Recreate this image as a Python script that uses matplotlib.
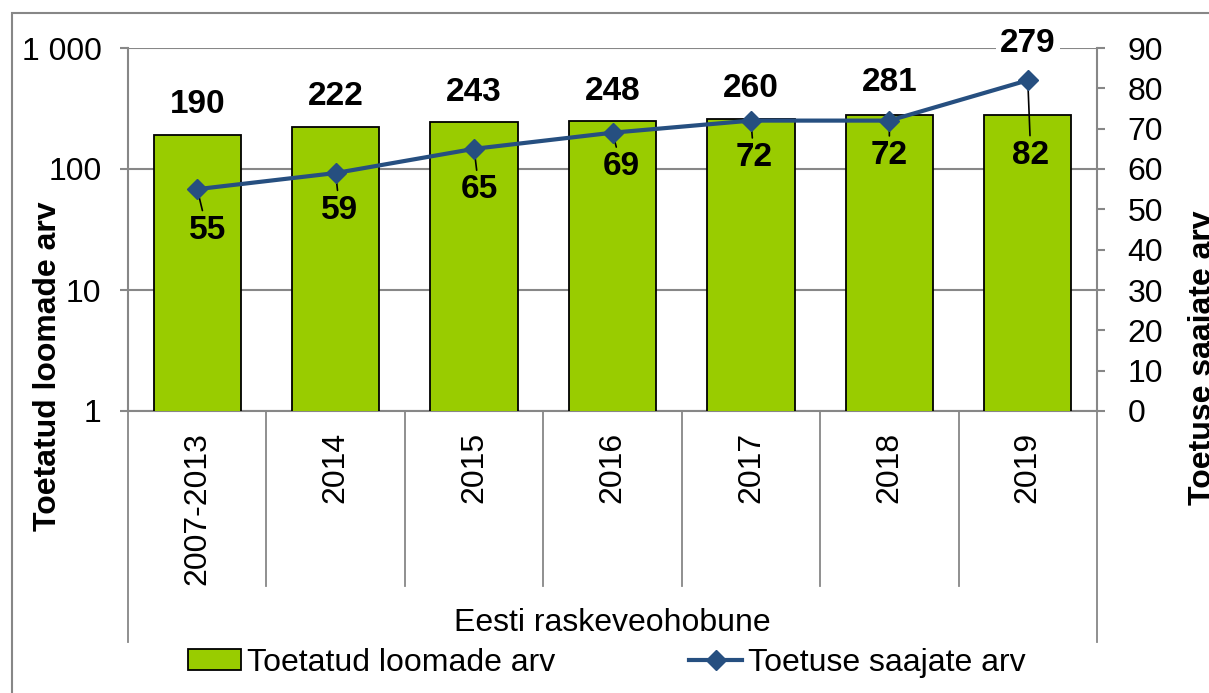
import matplotlib
matplotlib.use("Agg")
from matplotlib import pyplot as plt
from matplotlib.patches import Rectangle
from matplotlib.lines import Line2D
from matplotlib.ticker import FixedLocator, FuncFormatter, NullLocator
import matplotlib.transforms as mtransforms

plt.rcParams['font.family'] = ['Liberation Sans', 'DejaVu Sans']

# andmed
aastad = ["2007-2013", "2014", "2015", "2016", "2017", "2018", "2019"]
loomad = [190, 222, 243, 248, 260, 281, 279]
saajad = [55, 59, 65, 69, 72, 72, 82]
kategooria = "Eesti raskeveohobune"

roheline = "#99CC00"
sinine = "#264F80"
hall = "#878787"
fs = 23
fsb = 24

fig = plt.figure(figsize=(12.09, 6.93), dpi=100)
ax = fig.add_axes([128 / 1209, 1 - 411 / 693, 969 / 1209, 363 / 693])
ax2 = ax.twinx()

x = list(range(len(aastad)))
bars = ax.bar(x, loomad, width=0.63, color=roheline, edgecolor="black", linewidth=1.3, zorder=3)
ax.set_yscale("log")
ax.set_ylim(1, 1000)
ax.set_xlim(-0.5, len(aastad) - 0.5)
ax.yaxis.set_major_locator(FixedLocator([1, 10, 100, 1000]))
ax.yaxis.set_minor_locator(NullLocator())
ax.yaxis.set_major_formatter(FuncFormatter(lambda v, p: f"{int(v):,}".replace(",", " ")))
ax.grid(axis="y", color=hall, linewidth=1.5, zorder=0)
ax.set_xticks(x)
ax.set_xticklabels(aastad, rotation=90, fontsize=fs)
ax.tick_params(axis="x", length=0, pad=15)
ax.tick_params(axis="y", labelsize=fs, length=6, width=1.5, color=hall, pad=13)
for s in ["top", "right"]:
    ax.spines[s].set_visible(False)
for s in ["left", "bottom"]:
    ax.spines[s].set_color(hall)
    ax.spines[s].set_linewidth(1.5)

# tulpade sildid
nihked = [31, 31, 30, 30, 30, 32, 72]
for i, v in enumerate(loomad):
    t = ax.annotate(str(v), (i, v), xytext=(0, nihked[i]), textcoords="offset pixels",
                    ha="center", va="center", fontsize=fsb, fontweight="bold", zorder=6)
    if i == len(loomad) - 1:
        t.set_bbox(dict(facecolor="white", edgecolor="none", pad=3))

# joon
ax2.plot(x, saajad, color=sinine, linewidth=3, marker="D", markersize=10, zorder=5)
ax2.set_ylim(0, 90)
ax2.set_yticks(range(0, 91, 10))
ax2.tick_params(axis="y", labelsize=fs, length=6, width=1.5, color=hall, pad=16)
for s in ["top", "left", "bottom"]:
    ax2.spines[s].set_visible(False)
ax2.spines["right"].set_color(hall)
ax2.spines["right"].set_linewidth(1.5)

joone_nihked = [(10, -41), (4, -37), (5, -41), (9, -34), (3, -37), (0, -35), (3, -75)]
for i, v in enumerate(saajad):
    dx, dy = joone_nihked[i]
    ax2.annotate(str(v), (i, v), xytext=(dx, dy), textcoords="offset pixels",
                 ha="center", va="center", fontsize=fsb, fontweight="bold",
                 arrowprops=dict(arrowstyle="-", color="black", lw=1.2, shrinkA=1, shrinkB=0))

# kategooriate eraldajad
tr = mtransforms.blended_transform_factory(ax.transData, ax.transAxes)
for k in range(len(aastad) + 1):
    alla = -0.636 if k in (0, len(aastad)) else -0.482
    ax.add_line(Line2D([k - 0.5, k - 0.5], [0, alla], transform=tr, color=hall,
                       linewidth=1.3, clip_on=False))
ax.text(0.5, -0.584, kategooria, transform=ax.transAxes, ha="center", va="center", fontsize=fs)

# telgede pealkirjad
fig.text(48 / 1209, 1 - 366 / 693, "Toetatud loomade arv", rotation=90, ha="center", va="center",
         fontsize=fs, fontweight="bold")
fig.text(1203 / 1209, 1 - 358 / 693, "Toetuse saajate arv", rotation=90, ha="center", va="center",
         fontsize=fs, fontweight="bold")

# legend
h1 = Rectangle((0, 0), 1, 1, facecolor=roheline, edgecolor="black", linewidth=1.3)
h2 = Line2D([], [], color=sinine, linewidth=3, marker="D", markersize=10)
fig.legend([h1, h2], ["Toetatud loomade arv", "Toetuse saajate arv"], loc="center",
           bbox_to_anchor=(607 / 1209, 1 - 663 / 693), ncol=2, frameon=False, fontsize=fs,
           handlelength=1.65, handleheight=0.65, handletextpad=0.2, columnspacing=4.2, borderpad=0)

# raam
fig.patches.append(Rectangle((12 / 1209, -0.1), 1.2, 1 - 13 / 693 + 0.1, transform=fig.transFigure,
                             fill=False, edgecolor=hall, linewidth=1.5))

fig.savefig("out.png", dpi=100)
